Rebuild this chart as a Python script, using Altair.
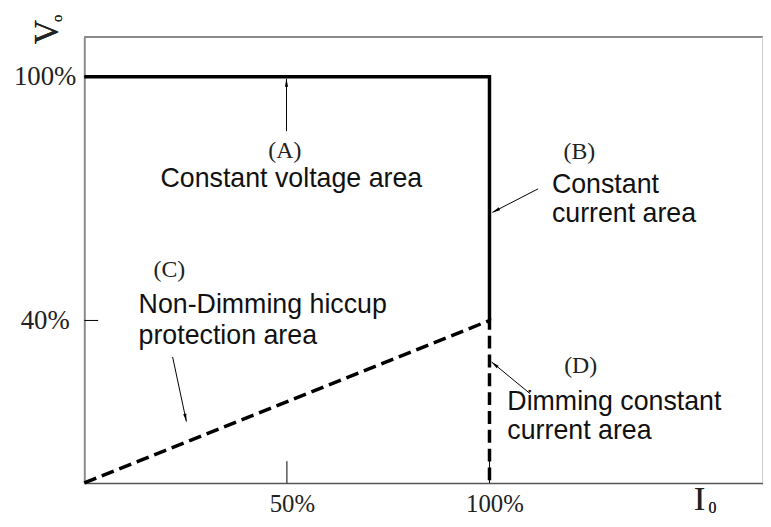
import math
import altair as alt
import pandas as pd

# ---------------- data ----------------
solid_i = [0, 100, 100]
solid_v = [100, 100, 40]
dash_i = [0, 100, 100]
dash_v = [0, 40, 0]

x_ticks = [50, 100]
y_ticks = [40, 100]

tag_text = ["(A)", "(B)", "(C)", "(D)"]
tag_i = [49.5, 122.2, 21.0, 122.5]
tag_v = [81.7, 81.5, 52.3, 28.8]

desc_text = ["Constant voltage area", "Constant", "current area",
             "Non-Dimming hiccup", "protection area",
             "Dimming constant", "current area"]
desc_i = [18.8, 115.4, 115.4, 13.4, 13.4, 104.4, 104.4]
desc_v = [74.9, 73.4, 66.1, 43.9, 36.1, 20.0, 12.7]

arrow_i0 = [49.9, 112.0, 21.8, 110.0]
arrow_v0 = [86.6, 72.4, 31.0, 22.0]
arrow_i1 = [49.9, 100.7, 25.2, 100.5]
arrow_v1 = [99.5, 66.6, 15.1, 29.8]

# ---------------- layout ----------------
W, H = 685, 450
X_DOM = [0, 167.5]
Y_DOM = [0, 109.75]
px_x = W / (X_DOM[1] - X_DOM[0])
px_y = H / (Y_DOM[1] - Y_DOM[0])

xs = alt.Scale(domain=X_DOM, nice=False, zero=False)
ys = alt.Scale(domain=Y_DOM, nice=False, zero=False)

curve_df = pd.DataFrame({
    "i": solid_i + dash_i,
    "v": solid_v + dash_v,
    "kind": ["solid"] * len(solid_i) + ["dash"] * len(dash_i),
    "order": list(range(len(solid_i))) + list(range(len(dash_i))),
})

tag_df = pd.DataFrame({"t": tag_text, "i": tag_i, "v": tag_v})
desc_df = pd.DataFrame({"t": desc_text, "i": desc_i, "v": desc_v})

angles = []
for a, b, c, d in zip(arrow_i0, arrow_v0, arrow_i1, arrow_v1):
    dx = (c - a) * px_x
    dy = -(d - b) * px_y
    angles.append(math.degrees(math.atan2(dx, -dy)) % 360)
arrow_df = pd.DataFrame({"i0": arrow_i0, "v0": arrow_v0, "i1": arrow_i1,
                         "v1": arrow_v1, "ang": angles})

xt_df = pd.DataFrame({"i": x_ticks})
yt_df = pd.DataFrame({"v": y_ticks})

base = alt.Chart(curve_df)

solid = base.transform_filter(alt.datum.kind == "solid").mark_line(
    color="black", strokeWidth=3.5, strokeCap="butt", strokeJoin="miter"
).encode(
    x=alt.X("i:Q", scale=xs,
            axis=alt.Axis(values=x_ticks, labelExpr="datum.value + '%'",
                          title=None, grid=False, ticks=False, tickSize=0,
                          labelFont="Liberation Serif", labelFontSize=25,
                          labelColor="#222", labelPadding=21, labelOffset=5,
                          labelBaseline="middle", domainColor="#555",
                          domainWidth=1.5)),
    y=alt.Y("v:Q", scale=ys,
            axis=alt.Axis(values=y_ticks, labelExpr="datum.value + '%'",
                          title=None, grid=False, ticks=False, tickSize=0,
                          labelFont="Liberation Serif", labelFontSize=27,
                          labelColor="#222", labelPadding=40,
                          labelAlign="center", labelBaseline="middle",
                          domainColor="#8a8a8a", domainWidth=2)),
    order="order:Q",
)

dashed = base.transform_filter(alt.datum.kind == "dash").mark_line(
    color="black", strokeWidth=3.5, strokeDash=[13, 6], strokeCap="butt"
).encode(x=alt.X("i:Q", scale=xs), y=alt.Y("v:Q", scale=ys), order="order:Q")

xticks = alt.Chart(xt_df).mark_rule(color="black", strokeWidth=1).encode(
    x=alt.X("i:Q", scale=xs), y=alt.value(H), y2=alt.value(H - 22))
yticks = alt.Chart(yt_df).mark_rule(color="black", strokeWidth=1).encode(
    y=alt.Y("v:Q", scale=ys), x=alt.value(0), x2=alt.value(14))

top_border = alt.Chart(xt_df).mark_rule(color="#8a8a8a", strokeWidth=2).encode(
    x=alt.value(0), x2=alt.value(W), y=alt.value(0))
right_border = alt.Chart(xt_df).mark_rule(color="#cccccc", strokeWidth=1.5).encode(
    x=alt.value(W), y=alt.value(0), y2=alt.value(H))

tags = alt.Chart(tag_df).mark_text(
    font="Liberation Serif", fontSize=24, color="#222", align="center",
    baseline="middle"
).encode(x=alt.X("i:Q", scale=xs), y=alt.Y("v:Q", scale=ys), text="t:N")

descs = alt.Chart(desc_df).mark_text(
    font="Liberation Sans", fontSize=27, color="#111", align="left",
    baseline="middle"
).encode(x=alt.X("i:Q", scale=xs), y=alt.Y("v:Q", scale=ys), text="t:N")

arrow_lines = alt.Chart(arrow_df).mark_rule(color="black", strokeWidth=1).encode(
    x=alt.X("i0:Q", scale=xs), y=alt.Y("v0:Q", scale=ys),
    x2="i1:Q", y2="v1:Q")

arrow_heads = alt.Chart(arrow_df).mark_point(
    shape="M0,0L0.32,1.6L-0.32,1.6Z", filled=True, color="black",
    size=100, opacity=1, strokeWidth=0
).encode(x=alt.X("i1:Q", scale=xs), y=alt.Y("v1:Q", scale=ys),
         angle=alt.Angle("ang:Q", scale=None))

v_label = alt.Chart(xt_df).mark_text(
    font="Liberation Serif", fontSize=34, color="#222", angle=270,
    align="center", baseline="middle"
).encode(x=alt.value(-38), y=alt.value(-5), text=alt.value("V"))
v_sub = alt.Chart(xt_df).mark_text(
    font="Liberation Serif", fontSize=15, color="#222", angle=270,
    align="center", baseline="middle"
).encode(x=alt.value(-28), y=alt.value(-19), text=alt.value("o"))
i_label = alt.Chart(xt_df).mark_text(
    font="Liberation Serif", fontSize=34, color="#222",
    align="center", baseline="middle"
).encode(x=alt.value(621), y=alt.value(467), text=alt.value("I"))
i_sub = alt.Chart(xt_df).mark_text(
    font="Liberation Serif", fontSize=16, color="#222",
    align="center", baseline="middle"
).encode(x=alt.value(634), y=alt.value(475), text=alt.value("0"))

chart = alt.layer(
    top_border, right_border, xticks, yticks, dashed, solid,
    arrow_lines, arrow_heads, tags, descs, v_label, v_sub, i_label, i_sub
).properties(
    width=W, height=H,
    autosize=alt.AutoSizeParams(type="none"),
    padding={"left": 77, "top": 27, "right": 0, "bottom": 34},
    background="white",
).configure_view(stroke=None)

chart.save("out.html", embed_options={"renderer": "svg", "actions": False})
